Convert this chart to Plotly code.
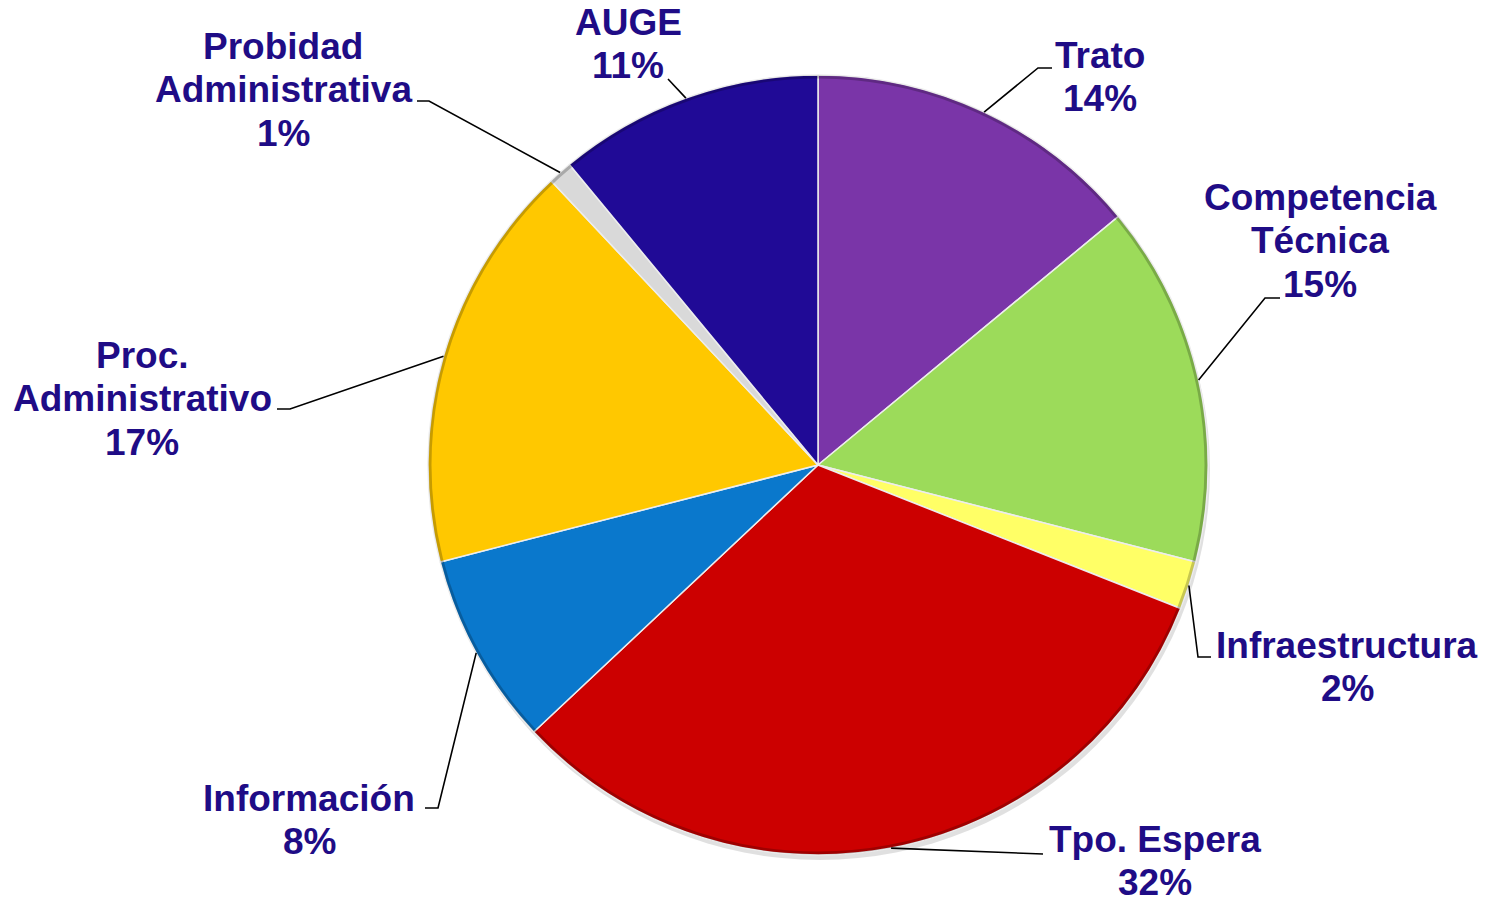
import math
import plotly.graph_objects as go

# Motivos de reclamo (porcentaje del total)
categories = ["Trato", "Competencia Técnica", "Infraestructura", "Tpo. Espera",
              "Información", "Proc. Administrativo", "Probidad Administrativa", "AUGE"]
values = [14, 15, 2, 32, 8, 17, 1, 11]
label_lines = [["Trato"], ["Competencia", "Técnica"], ["Infraestructura"], ["Tpo. Espera"],
               ["Información"], ["Proc.", "Administrativo"], ["Probidad", "Administrativa"], ["AUGE"]]
colors = ["#7A35A8", "#9CDB5A", "#FFFF66", "#CC0000", "#0A78CC", "#FFC800", "#D9D9D9", "#200A96"]

W, H = 1494, 902
CX, CY, R = 818, 465, 390
TEXT_COLOR = "#1F0C86"
FONT = dict(family="Liberation Sans, Arial, sans-serif", size=37, color=TEXT_COLOR, weight="bold")
LINE_GAP = 43.5

# label block placement (center x, first-line y) and leader-line bends, in pixels
label_pos = [(1100, 55), (1320, 197), (1347, 645), (1155, 839),
             (309, 798), (142, 355), (283, 46), (628, 22)]
leader_bends = [[(1038, 68), (1052, 68)],
                [(1265, 298), (1280, 298)],
                [(1198, 657), (1211, 657)],
                [(1043, 854)],
                [(438, 808), (425, 808)],
                [(290, 409), (277, 409)],
                [(429, 101), (417, 101)],
                [(668, 79)]]

fig = go.Figure()

fig.add_trace(go.Pie(
    labels=categories, values=values, sort=False, direction="clockwise", rotation=0,
    marker=dict(colors=colors, line=dict(color="#EDEDED", width=1.5)),
    textinfo="none", hoverinfo="label+percent", showlegend=False,
    domain=dict(x=[(CX - R) / W, (CX + R) / W], y=[1 - (CY + R) / H, 1 - (CY - R) / H]),
))

shapes = [
    # soft drop shadow under the pie
    dict(type="circle", xref="x", yref="y", x0=CX - R + 2, x1=CX + R + 2,
         y0=CY - R + 5, y1=CY + R + 5, fillcolor="rgba(0,0,0,0.12)",
         line=dict(width=0), layer="below"),
    # darker rim for a slight bevel
    dict(type="circle", xref="x", yref="y", x0=CX - R + 2, x1=CX + R - 2,
         y0=CY - R + 2, y1=CY + R - 2, fillcolor="rgba(0,0,0,0)",
         line=dict(color="rgba(0,0,0,0.22)", width=3), layer="above"),
]

total = sum(values)
cum = 0
annotations = []
for i, v in enumerate(values):
    mid = (cum + v / 2) / total * 2 * math.pi
    cum += v
    sx = CX + R * math.sin(mid)
    sy = CY - R * math.cos(mid)
    pts = [(sx, sy)] + leader_bends[i]
    path = "M " + " L ".join(f"{x:.1f},{y:.1f}" for x, y in pts)
    shapes.append(dict(type="path", path=path, xref="x", yref="y",
                       line=dict(color="black", width=1.6), layer="above"))
    lx, ly = label_pos[i]
    lines = label_lines[i] + [f"{v}%"]
    for k, t in enumerate(lines):
        annotations.append(dict(x=lx, y=ly + k * LINE_GAP, xref="x", yref="y", text=t,
                                showarrow=False, font=FONT, xanchor="center", yanchor="middle"))

fig.update_layout(
    width=W, height=H,
    margin=dict(l=0, r=0, t=0, b=0),
    paper_bgcolor="white", plot_bgcolor="rgba(0,0,0,0)",
    xaxis=dict(range=[0, W], visible=False, fixedrange=True),
    yaxis=dict(range=[H, 0], visible=False, fixedrange=True),
    shapes=shapes, annotations=annotations,
)

fig.write_html("out.html")
